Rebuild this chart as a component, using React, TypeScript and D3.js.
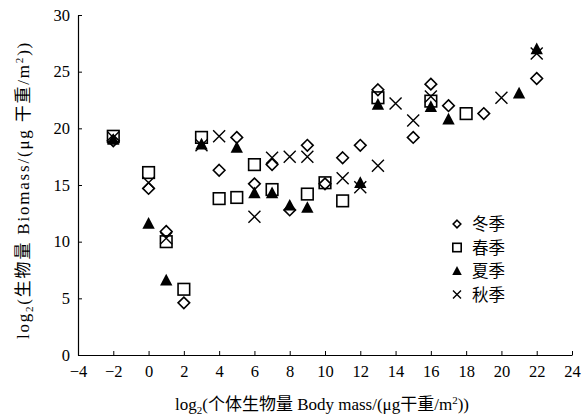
import { useEffect, useRef } from 'react'
import * as d3 from 'd3'

// log2 body mass classes and log2 biomass per season
const winterX = [-2, 0, 1, 2, 4, 5, 6, 7, 8, 9, 10, 11, 12, 13, 15, 16, 17, 19, 22]
const winterY = [18.9, 14.7, 10.9, 4.6, 16.3, 19.2, 15.1, 16.8, 12.8, 18.5, 15.1, 17.4, 18.5, 23.4, 19.2, 23.9, 22.0, 21.3, 24.4]

const springX = [-2, 0, 1, 2, 3, 4, 5, 6, 7, 9, 10, 11, 13, 16, 18]
const springY = [19.3, 16.1, 10.0, 5.8, 19.2, 13.8, 13.9, 16.8, 14.6, 14.2, 15.2, 13.6, 22.7, 22.4, 21.3]

const summerX = [-2, 0, 1, 3, 5, 6, 7, 8, 9, 12, 13, 16, 17, 21, 22]
const summerY = [19.0, 11.6, 6.6, 18.6, 18.3, 14.3, 14.3, 13.2, 13.0, 15.2, 22.1, 21.9, 20.8, 23.1, 27.0]

const autumnX = [-2, 0, 1, 3, 4, 6, 7, 8, 9, 11, 12, 13, 14, 15, 16, 20, 22]
const autumnY = [19.2, 15.2, 10.3, 18.5, 19.3, 12.2, 17.4, 17.5, 17.5, 15.6, 14.8, 16.7, 22.2, 20.7, 22.8, 22.7, 26.6]

const seasonNames = ['冬季', '春季', '夏季', '秋季']
const xTicks = d3.range(-4, 25, 2)
const yTicks = d3.range(0, 31, 5)

const FONT = '"Liberation Serif", "Noto Sans CJK SC", serif'

function App() {
  const ref = useRef<SVGSVGElement>(null)

  useEffect(() => {
    const svg = d3.select(ref.current)
    svg.selectAll('*').remove()

    const x = d3.scaleLinear().domain([-4, 24]).range([78, 572])
    const y = d3.scaleLinear().domain([0, 30]).range([355, 15])

    // axes with inward ticks
    const gx = svg.append('g').attr('transform', 'translate(0,355)')
      .call(d3.axisBottom(x).tickValues(xTicks).tickSizeInner(-4).tickSizeOuter(0).tickPadding(10).tickFormat(d => d3.format('d')(d as number).replace('-', '−')))
    const gy = svg.append('g').attr('transform', 'translate(78,0)')
      .call(d3.axisLeft(y).tickValues(yTicks).tickSizeInner(-4).tickSizeOuter(0).tickPadding(8))
    ;[gx, gy].forEach(g => {
      g.select('.domain').attr('stroke', '#000').attr('stroke-width', 1.2)
      g.selectAll('.tick line').attr('stroke', '#000').attr('stroke-width', 1)
      g.selectAll('.tick text').style('font', '16.5px ' + FONT).attr('fill', '#000')
    })

    const diamond = (g: any, cx: number, cy: number, r: number) =>
      g.append('path').attr('d', `M${cx},${cy - r}L${cx + r},${cy}L${cx},${cy + r}L${cx - r},${cy}Z`)
        .attr('fill', '#fff').attr('stroke', '#000').attr('stroke-width', 1.6)
    const square = (g: any, cx: number, cy: number, r: number) =>
      g.append('rect').attr('x', cx - r).attr('y', cy - r).attr('width', 2 * r).attr('height', 2 * r)
        .attr('fill', 'none').attr('stroke', '#000').attr('stroke-width', 1.6)
    const triangle = (g: any, cx: number, cy: number, r: number) =>
      g.append('path').attr('d', `M${cx},${cy - r}L${cx + r * 0.95},${cy + r * 0.8}L${cx - r * 0.95},${cy + r * 0.8}Z`)
        .attr('fill', '#000')
    const cross = (g: any, cx: number, cy: number, r: number) =>
      g.append('path').attr('d', `M${cx - r},${cy - r}L${cx + r},${cy + r}M${cx - r},${cy + r}L${cx + r},${cy - r}`)
        .attr('stroke', '#000').attr('stroke-width', 1.4).attr('fill', 'none')

    const marks = svg.append('g')
    winterX.forEach((d, i) => diamond(marks, x(d), y(winterY[i]), 5.8))
    springX.forEach((d, i) => square(marks, x(d), y(springY[i]), 5.8))
    summerX.forEach((d, i) => triangle(marks, x(d), y(summerY[i]), 6.5))
    autumnX.forEach((d, i) => cross(marks, x(d), y(autumnY[i]), 6))

    // legend
    const shapes = [diamond, square, triangle, cross]
    const sizes = [3.8, 4.2, 5, 4]
    const leg = svg.append('g')
    seasonNames.forEach((name, i) => {
      const ly = 224 + i * 23.5
      shapes[i](leg, 457, ly, sizes[i])
      leg.append('text').attr('x', 472).attr('y', ly + 6).text(name)
        .style('font', '16.5px ' + FONT).attr('fill', '#000')
    })

    // axis titles
    const xt = svg.append('text').attr('x', 322).attr('y', 410).attr('text-anchor', 'middle')
      .style('font', '17px ' + FONT).attr('fill', '#000')
    xt.append('tspan').text('log')
    xt.append('tspan').text('2').attr('font-size', 11).attr('dy', 4)
    xt.append('tspan').text('(个体生物量 Body mass/(μg干重/m').attr('dy', -4)
    xt.append('tspan').text('2').attr('font-size', 11).attr('dy', -6)
    xt.append('tspan').text('))').attr('dy', 6)

    const yt = svg.append('text').attr('transform', 'translate(29,190)rotate(-90)').attr('text-anchor', 'middle')
      .style('font', '17px ' + FONT).style('letter-spacing', '1.8px').attr('fill', '#000')
    yt.append('tspan').text('log')
    yt.append('tspan').text('2').attr('font-size', 11).attr('dy', 4)
    yt.append('tspan').text('(生物量 Biomass/(μg 干重/m').attr('dy', -4)
    yt.append('tspan').text('2').attr('font-size', 11).attr('dy', -6)
    yt.append('tspan').text('))').attr('dy', 6)
  }, [])

  return (
    <svg ref={ref} width={587} height={418}
      style={{ position: 'absolute', left: 0, top: 0, background: '#fff' }} />
  )
}

export default App
